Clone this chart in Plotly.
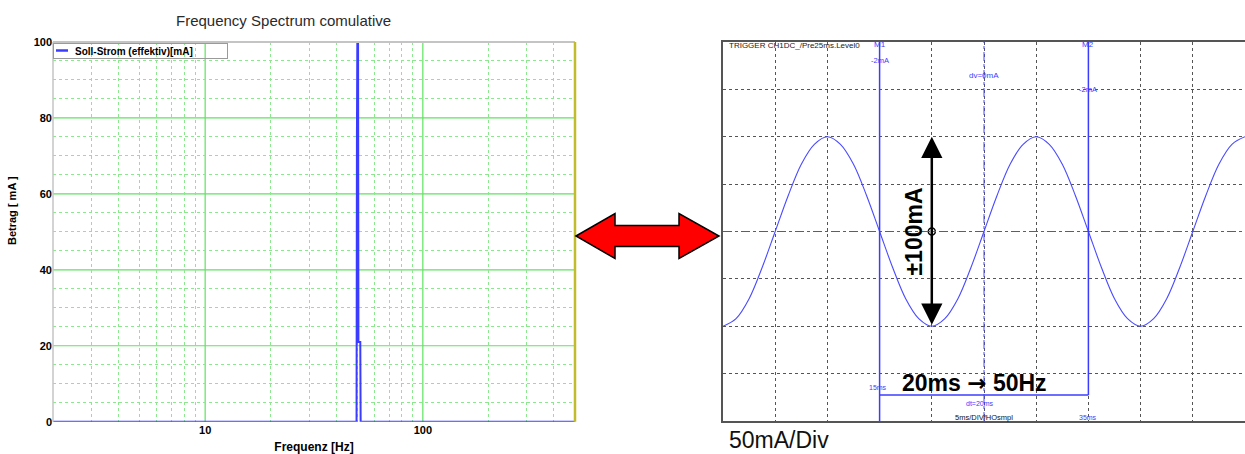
import math
import plotly.graph_objects as go

# ---------------- data ----------------
# Left: cumulative frequency spectrum (log frequency axis)
freq_hz = [2, 49.6, 49.8, 50.0, 50.4, 50.6, 51.6, 51.8, 500]
amp_ma = [0, 0, 75, 99.5, 99.5, 21, 21, 0, 0]
spec_name = "Soll-Strom (effektiv)[mA]"

freq_major = [10, 100]
freq_minor = [3, 4, 5, 6, 7, 8, 9, 20, 30, 40, 50, 60, 70, 80, 90, 200, 300, 400]
amp_ticks = [0, 20, 40, 60, 80, 100]

# Right: oscilloscope trace (time in ms, current in mA), read every 1.25 ms
scope_t_ms = [0, 1.25, 2.5, 3.75, 5, 6.25, 7.5, 8.75, 10, 11.25, 12.5, 13.75,
              15, 16.25, 17.5, 18.75, 20, 21.25, 22.5, 23.75, 25, 26.25, 27.5,
              28.75, 30, 31.25, 32.5, 33.75, 35, 36.25, 37.5, 38.75, 40, 41.25,
              42.5, 43.75, 45, 46.25, 47.5, 48.75, 50]
scope_i_ma = [-100, -92, -71, -38, 0, 38, 71, 92, 100, 92, 71, 38,
              0, -38, -71, -92, -100, -92, -71, -38, 0, 38, 71,
              92, 100, 92, 71, 38, 0, -38, -71, -92, -100, -92,
              -71, -38, 0, 38, 71, 92, 100]
cursor_ms = [15, 35]
cursor_names = ["M1", "M2"]
cursor_levels = ["-2mA", "-2mA"]
dt_mid_ms = 25
amp_arrow_ma = [100, -100]
arrow_t_ms = 20

# ---------------- geometry helpers (pixels -> paper) ----------------
W, H = 1245, 454


def px(x):
    return x / W


def py(y):
    return 1 - y / H


BLUE = "#3c3cff"
SCOPE_BLUE = "#4a4aff"
GREEN_MAJOR = "#5ee45e"
GREEN_MINOR = "#8ce88c"
FONT = "Liberation Sans, Arial, sans-serif"

fig = go.Figure()

fig.add_trace(go.Scatter(
    x=freq_hz, y=amp_ma, mode="lines", name=spec_name, showlegend=False,
    line=dict(color=BLUE, width=2), xaxis="x", yaxis="y", cliponaxis=False,
))

fig.add_trace(go.Scatter(
    x=scope_t_ms, y=scope_i_ma, mode="lines", showlegend=False,
    line=dict(color=SCOPE_BLUE, width=1.1, shape="spline"),
    xaxis="x2", yaxis="y2",
))

fig.add_trace(go.Scatter(
    x=[arrow_t_ms], y=[0], mode="markers", showlegend=False,
    marker=dict(symbol="circle", size=7, color="white",
                line=dict(color="black", width=1.5)),
    xaxis="x2", yaxis="y2",
))

tick_font = dict(family=FONT, size=11, color="black", weight="bold")

fig.update_layout(
    width=W, height=H, autosize=False,
    margin=dict(l=0, r=0, t=0, b=0, pad=0, autoexpand=False),
    paper_bgcolor="white", plot_bgcolor="white",
    font=dict(family=FONT),
    showlegend=False,
    xaxis=dict(
        type="log", domain=[px(53), px(575)],
        range=[math.log10(2), math.log10(500)],
        tickvals=freq_major, ticktext=[str(v) for v in freq_major],
        ticks="", showline=False, zeroline=False, automargin=False,
        showgrid=False,
        minor=dict(tickvals=freq_minor, showgrid=True, gridcolor=GREEN_MINOR,
                   griddash="dot", gridwidth=1, ticks=""),
        tickfont=tick_font,
        title=dict(text="Frequenz [Hz]", standoff=8,
                   font=dict(size=12, color="black", weight="bold")),
        anchor="y",
    ),
    yaxis=dict(
        domain=[py(421.7), py(42)], range=[0, 100],
        tickvals=amp_ticks, ticks="", showline=False, zeroline=False,
        automargin=False, showgrid=False,
        minor=dict(tickvals=[v for v in range(5, 100, 5) if v % 20],
                   showgrid=True, gridcolor=GREEN_MINOR,
                   griddash="dot", gridwidth=1, ticks=""),
        tickfont=tick_font, anchor="x",
    ),
    xaxis2=dict(
        domain=[px(723), 1.0], range=[0, 50], dtick=5, tick0=0,
        showticklabels=False, ticks="", zeroline=False, automargin=False,
        showgrid=True, gridcolor="#555555", griddash="dot", gridwidth=1,
        showline=True, mirror=True, linecolor="#555555", linewidth=2,
        anchor="y2",
    ),
    yaxis2=dict(
        domain=[py(421), py(42)], range=[-200, 200], dtick=50, tick0=0,
        showticklabels=False, ticks="", zeroline=False, automargin=False,
        showgrid=True, gridcolor="#555555", griddash="dot", gridwidth=1,
        showline=True, mirror=True, linecolor="#555555", linewidth=2,
        anchor="x2",
    ),
)

shapes = []
# major grid of the spectrum (solid green)
for f in freq_major:
    shapes.append(dict(type="line", xref="x", yref="y domain", layer="below",
                       x0=f, x1=f, y0=0, y1=1,
                       line=dict(color=GREEN_MAJOR, width=1.2)))
for a in amp_ticks[1:-1]:
    shapes.append(dict(type="line", xref="x domain", yref="y", layer="below",
                       x0=0, x1=1, y0=a, y1=a,
                       line=dict(color=GREEN_MAJOR, width=1.2)))
# left plot borders: grey left/top, olive right
shapes.append(dict(type="line", xref="x domain", yref="y domain",
                   x0=0, x1=0, y0=0, y1=1, line=dict(color="#c4c4c4", width=1.5)))
shapes.append(dict(type="line", xref="x domain", yref="y domain",
                   x0=0, x1=1, y0=1, y1=1, line=dict(color="#c4c4c4", width=2)))
shapes.append(dict(type="line", xref="x domain", yref="y domain",
                   x0=1, x1=1, y0=0, y1=1, line=dict(color="#c2bc2c", width=2.5)))
# legend sample line
shapes.append(dict(type="line", xref="paper", yref="paper",
                   x0=px(56), x1=px(68), y0=py(50.5), y1=py(50.5),
                   line=dict(color=BLUE, width=2.5)))

# scope: zero line and dt-midline (dash-dot)
shapes.append(dict(type="line", xref="x2 domain", yref="y2",
                   x0=0, x1=1, y0=0, y1=0,
                   line=dict(color=SCOPE_BLUE, width=1, dash="dashdot")))
shapes.append(dict(type="line", xref="x2", yref="y2 domain",
                   x0=dt_mid_ms, x1=dt_mid_ms, y0=0, y1=1,
                   line=dict(color=SCOPE_BLUE, width=1, dash="dashdot")))
# cursors M1 / M2
shapes.append(dict(type="line", xref="x2", yref="y2 domain",
                   x0=cursor_ms[0], x1=cursor_ms[0], y0=0, y1=1,
                   line=dict(color=BLUE, width=1.5)))
shapes.append(dict(type="line", xref="x2", yref="y2",
                   x0=cursor_ms[1], x1=cursor_ms[1], y0=-172.5, y1=200,
                   line=dict(color=BLUE, width=1.5)))
shapes.append(dict(type="line", xref="x2", yref="y2",
                   x0=cursor_ms[0], x1=cursor_ms[1], y0=-172.5, y1=-172.5,
                   line=dict(color=BLUE, width=1.5)))

# red double arrow between the two panels
pts = [(576, 236), (615, 213.5), (615, 225.5), (679, 225.5), (679, 213.5),
       (719, 236), (679, 258.5), (679, 246.5), (615, 246.5), (615, 258.5)]
path = "M " + " L ".join(f"{px(x):.5f},{py(y):.5f}" for x, y in pts) + " Z"
shapes.append(dict(type="path", xref="paper", yref="paper", path=path,
                   fillcolor="#ff0000", line=dict(color="black", width=1.5)))

fig.update_layout(shapes=shapes)

small = dict(family=FONT, size=8, color=BLUE)
ann = []
# chart title
ann.append(dict(text="Frequency Spectrum comulative", xref="paper", yref="paper",
                x=px(283), y=py(20), xanchor="center", yanchor="middle",
                showarrow=False, font=dict(size=15, color="#2a2a2a")))
# legend box
ann.append(dict(text="\u2003\u2003<b>" + spec_name + "</b>", xref="paper",
                yref="paper", x=px(53), y=py(43), xanchor="left", yanchor="top",
                showarrow=False, align="left", width=171, height=12,
                bgcolor="rgba(255,255,255,0)", bordercolor="#9a9a9a",
                borderwidth=1, borderpad=1,
                font=dict(size=10, color="black")))
# left y-axis title
ann.append(dict(text="Betrag [ mA ]", xref="paper", yref="paper",
                x=px(12), y=py(211), xanchor="center", yanchor="middle",
                showarrow=False, textangle=-90,
                font=dict(size=11, color="black", weight="bold")))
# scope texts
ann.append(dict(text="TRIGGER CH1DC_/Pre25ms.Level0", xref="x2", yref="y2",
                x=0.4, y=196, xanchor="left", showarrow=False,
                font=dict(family=FONT, size=8, color="#222222")))
for t, name, lvl, lvl_y in zip(cursor_ms, cursor_names, cursor_levels, [180, 150]):
    ann.append(dict(text=name, xref="x2", yref="y2", x=t, y=197,
                    showarrow=False, font=small))
    ann.append(dict(text=lvl, xref="x2", yref="y2", x=t, y=lvl_y,
                    showarrow=False, font=dict(small, size=7.5)))
ann.append(dict(text="dv=0mA", xref="x2", yref="y2", x=dt_mid_ms, y=165,
                showarrow=False, font=small))
ann.append(dict(text=f"{cursor_ms[0]}ms", xref="x2", yref="y2",
                x=cursor_ms[0] - 0.2, y=-165, showarrow=False,
                font=dict(small, size=7)))
ann.append(dict(text=f"dt={cursor_ms[1] - cursor_ms[0]}ms", xref="x2", yref="y2",
                x=24.6, y=-181, showarrow=False, font=dict(small, size=7)))
ann.append(dict(text=f"{cursor_ms[1]}ms", xref="x2", yref="y2",
                x=cursor_ms[1], y=-196, showarrow=False,
                font=dict(small, size=7)))
ann.append(dict(text="5ms/DIV/HOsmpl", xref="x2", yref="y2", x=22, y=-196,
                xanchor="left", showarrow=False,
                font=dict(family=FONT, size=7.5, color="#111111")))
# big labels
ann.append(dict(text="20ms <span style='font-family:DejaVu Sans'>\u2192</span> 50Hz",
                xref="x2", yref="y2", x=24.1, y=-160, showarrow=False,
                font=dict(size=23, color="black", weight="bold")))
ann.append(dict(text="\u00b1100mA", xref="x2", yref="y2", x=18.2, y=0,
                showarrow=False, textangle=-90,
                font=dict(size=23, color="black", weight="bold")))
# black double-headed amplitude arrow
ann.append(dict(text="", xref="x2", yref="y2", x=arrow_t_ms, y=amp_arrow_ma[0],
                axref="x2", ayref="y2", ax=arrow_t_ms, ay=amp_arrow_ma[1],
                showarrow=True, arrowhead=2, arrowside="end+start",
                arrowsize=1.7, arrowwidth=2.5, arrowcolor="black",
                standoff=0, startstandoff=0))
ann.append(dict(text="50mA/Div", xref="paper", yref="paper", x=px(727),
                y=py(440), xanchor="left", yanchor="middle", showarrow=False,
                font=dict(size=23, color="#111111")))
fig.update_layout(annotations=ann)

fig.write_html(
    "out.html",
    config={"displayModeBar": False},
    post_script=("document.body.style.margin='0px';"
                 "document.body.style.padding='0px';"
                 "document.body.style.overflow='hidden';"),
)
